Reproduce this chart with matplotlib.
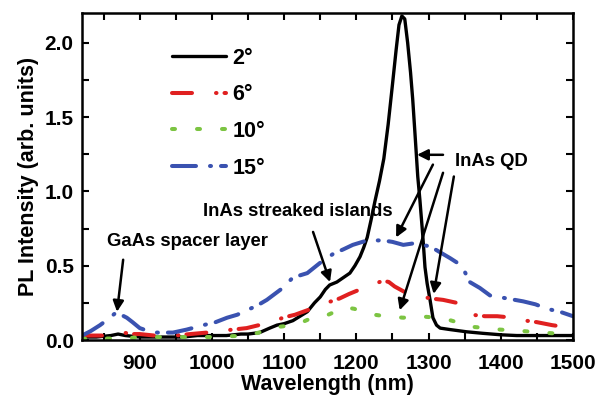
import numpy as np
import matplotlib
matplotlib.use("Agg")
import matplotlib.pyplot as plt

plt.rcParams['font.family'] = ['Liberation Sans', 'DejaVu Sans']
plt.rcParams['font.weight'] = 'bold'
plt.rcParams['lines.scale_dashes'] = False

# 2 deg
wl_2 = [820, 840, 860, 870, 880, 900, 920, 940, 960, 980, 1000, 1020, 1040, 1050,
        1066, 1080, 1090, 1100, 1112, 1122, 1132, 1142, 1150, 1157, 1163, 1173, 1182,
        1191, 1198, 1205, 1210, 1215, 1220, 1226, 1232, 1238, 1244, 1250, 1255, 1259,
        1263, 1267, 1271, 1275, 1278, 1281, 1283, 1285, 1288, 1292, 1295, 1298, 1302,
        1306, 1311, 1316, 1330, 1353, 1375, 1400, 1422, 1450, 1475, 1500]
pl_2 = [0.02, 0.02, 0.03, 0.04, 0.03, 0.02, 0.02, 0.02, 0.02, 0.03, 0.03, 0.03, 0.04, 0.04,
        0.05, 0.08, 0.10, 0.11, 0.13, 0.16, 0.19, 0.25, 0.29, 0.34, 0.37, 0.39, 0.42,
        0.45, 0.50, 0.56, 0.62, 0.69, 0.80, 0.94, 1.07, 1.22, 1.45, 1.72, 1.95, 2.12,
        2.18, 2.16, 2.00, 1.80, 1.62, 1.40, 1.25, 1.10, 0.94, 0.70, 0.49, 0.38, 0.27,
        0.15, 0.10, 0.08, 0.07, 0.055, 0.045, 0.035, 0.03, 0.03, 0.03, 0.03]

# 6 deg
wl_6 = [820, 840, 860, 877, 890, 900, 920, 950, 970, 993, 1010, 1029, 1048, 1065, 1080,
        1098, 1115, 1132, 1150, 1165, 1177, 1190, 1205, 1222, 1237, 1245, 1253, 1268,
        1284, 1302, 1320, 1339, 1350, 1360, 1378, 1395, 1417, 1435, 1450, 1471, 1485, 1500]
pl_6 = [0.03, 0.03, 0.03, 0.05, 0.04, 0.04, 0.03, 0.03, 0.04, 0.05, 0.06, 0.07, 0.08, 0.10, 0.11,
        0.15, 0.17, 0.20, 0.24, 0.26, 0.28, 0.31, 0.34, 0.37, 0.40, 0.39, 0.36, 0.32,
        0.30, 0.28, 0.27, 0.25, 0.21, 0.17, 0.16, 0.16, 0.15, 0.13, 0.12, 0.10, 0.09, 0.08]

# 10 deg
wl_10 = [820, 850, 880, 900, 950, 1000, 1048, 1065, 1080, 1095, 1112, 1125, 1139, 1161,
         1184, 1197, 1209, 1225, 1240, 1265, 1286, 1312, 1325, 1339, 1357, 1381, 1399,
         1431, 1458, 1486, 1500]
pl_10 = [0.01, 0.01, 0.01, 0.02, 0.02, 0.02, 0.03, 0.05, 0.08, 0.09, 0.10, 0.12, 0.15, 0.17,
         0.22, 0.21, 0.19, 0.17, 0.16, 0.15, 0.16, 0.15, 0.14, 0.12, 0.09, 0.08, 0.07,
         0.06, 0.05, 0.04, 0.04]

# 15 deg
wl_15 = [820, 832, 845, 856, 866, 874, 882, 890, 900, 912, 924, 946, 965, 988, 1005,
         1021, 1035, 1048, 1062, 1076, 1087, 1098, 1112, 1132, 1150, 1168, 1182, 1195,
         1215, 1237, 1250, 1265, 1279, 1302, 1316, 1330, 1346, 1357, 1371, 1385, 1408,
         1431, 1448, 1464, 1482, 1500]
pl_15 = [0.03, 0.06, 0.10, 0.14, 0.18, 0.17, 0.15, 0.12, 0.08, 0.06, 0.05, 0.05, 0.07, 0.10, 0.12,
         0.15, 0.17, 0.20, 0.23, 0.27, 0.31, 0.35, 0.42, 0.45, 0.52, 0.58, 0.61, 0.64,
         0.67, 0.67, 0.66, 0.64, 0.65, 0.63, 0.59, 0.55, 0.50, 0.39, 0.35, 0.30, 0.28,
         0.26, 0.24, 0.21, 0.19, 0.16]

labels = ['2°', '6°', '10°', '15°']

px = 0.72  # points per pixel at dpi 100

fig = plt.figure(figsize=(5.97, 3.95), dpi=100)
ax = fig.add_axes([82/597, 55/395, 491/597, 327/395])

ax.plot(wl_2, pl_2, color='black', lw=2.4, label=labels[0], solid_capstyle='round')
ax.plot(wl_6, pl_6, color='#e02020', lw=2.9, label=labels[1], dash_capstyle='round',
        dashes=(20*px, 24*px, 0.5*px, 8*px))
ax.plot(wl_10, pl_10, color='#7cc442', lw=2.9, label=labels[2], dash_capstyle='round',
        dashes=(3*px, 22*px))
ax.plot(wl_15, pl_15, color='#3a52b0', lw=2.9, label=labels[3], dash_capstyle='round',
        dashes=(24*px, 14*px, 1*px, 10*px))

ax.set_xlim(820, 1500)
ax.set_ylim(0, 2.2)
ax.set_xticks([900, 1000, 1100, 1200, 1300, 1400, 1500])
ax.set_xticks(np.arange(850, 1500, 50), minor=True)
ax.set_yticks([0.0, 0.5, 1.0, 1.5, 2.0])
ax.set_yticks([0.25, 0.75, 1.25, 1.75], minor=True)
ax.yaxis.set_major_formatter(matplotlib.ticker.FormatStrFormatter('%.1f'))
ax.tick_params(which='both', direction='in', top=True, right=True, width=1.5, length=5,
               labelsize=15)
ax.tick_params(axis='x', pad=10)
ax.tick_params(axis='y', pad=6)
for s in ax.spines.values():
    s.set_linewidth(1.8)

ax.set_xlabel('Wavelength (nm)', fontsize=15.5, fontweight='bold', labelpad=1)
ax.set_ylabel('PL Intensity (arb. units)', fontsize=15.5, fontweight='bold', labelpad=4)

leg = ax.legend(loc='upper left', bbox_to_anchor=(172/597, 1-48/395),
                bbox_transform=fig.transFigure, frameon=False, fontsize=15.5,
                handlelength=2.5, handletextpad=0.3, labelspacing=0.72,
                borderpad=0, borderaxespad=0)

arr = dict(arrowstyle='-|>', color='black', lw=1.8, mutation_scale=16,
           shrinkA=0, shrinkB=0)
fs = 13.3
ax.text(1337, 1.20, 'InAs QD', fontsize=fs, fontweight='bold', va='center', ha='left')
ax.annotate('', xy=(1284, 1.246), xytext=(1320, 1.246), arrowprops=arr)
ax.annotate('', xy=(1255, 0.69), xytext=(1306, 1.18), arrowprops=arr)
ax.annotate('', xy=(1260, 0.20), xytext=(1320, 1.125), arrowprops=arr)
ax.annotate('', xy=(1307, 0.31), xytext=(1335, 1.10), arrowprops=arr)

ax.text(988, 0.862, 'InAs streaked islands', fontsize=fs, fontweight='bold',
        va='center', ha='left')
ax.annotate('', xy=(1163.5, 0.39), xytext=(1140, 0.727), arrowprops=arr)

ax.text(855, 0.66, 'GaAs spacer layer', fontsize=fs, fontweight='bold',
        va='center', ha='left')
ax.annotate('', xy=(868.5, 0.19), xytext=(877, 0.54), arrowprops=arr)

fig.savefig('out.png', dpi=100)
